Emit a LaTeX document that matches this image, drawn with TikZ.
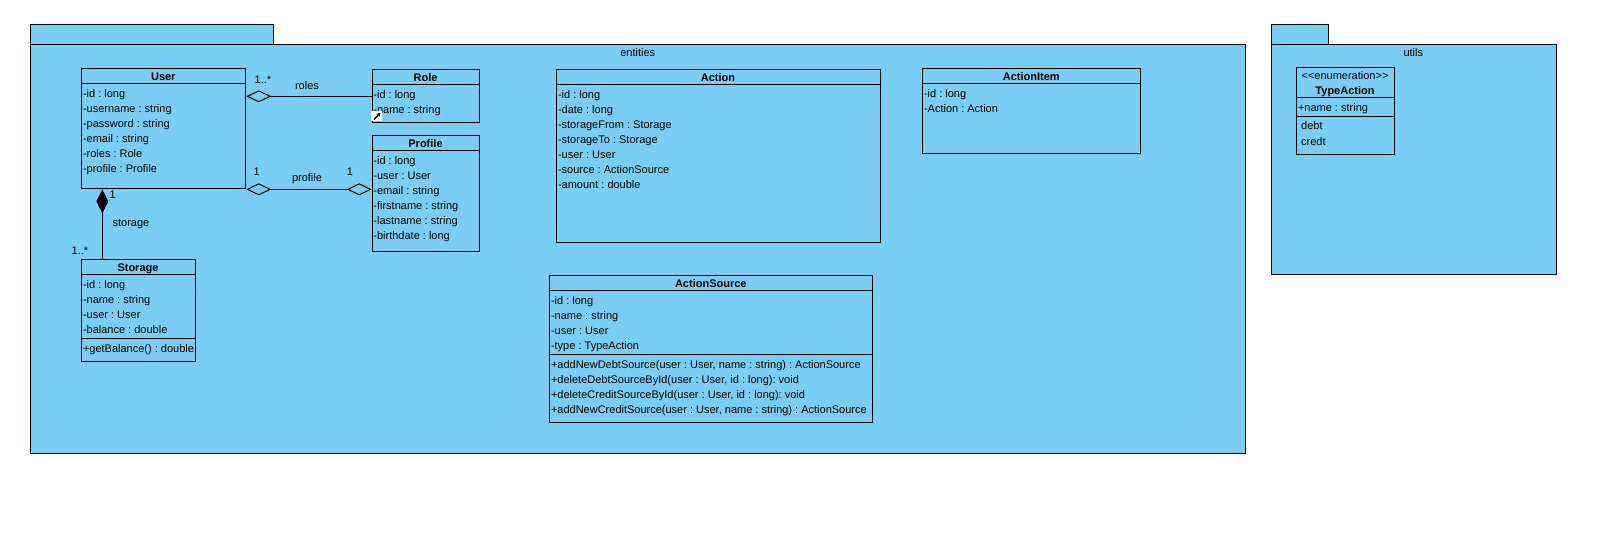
\documentclass[tikz,border=0pt]{standalone}
\usepackage{fontspec}
\setmainfont{Liberation Sans}
\usetikzlibrary{positioning,arrows.meta}
\definecolor{pkgblue}{RGB}{122,206,244}
\frenchspacing

\tikzset{
  classbox/.style={draw, fill=pkgblue, anchor=north west, inner sep=0pt},
  attr/.style={anchor=base west, inner sep=0pt, font=\fontsize{11}{13}\selectfont},
  cname/.style={anchor=base, inner sep=0pt, font=\fontsize{11}{13}\selectfont\bfseries},
  lbl/.style={inner sep=0pt, font=\fontsize{11}{13}\selectfont},
  agg/.tip={Diamond[open, length=25pt, width=12pt]},
  comp/.tip={Diamond[length=24pt, width=12pt]}
}

\begin{document}
\begin{tikzpicture}[x=1pt, y=-1pt, line width=1pt]
	\useasboundingbox (0,0) rectangle (1622,539);
	% packages
	\draw[fill=pkgblue] (30.3,24.3) rectangle (273.3,44.3);
	\draw[fill=pkgblue] (30.3,44.3) rectangle (1245.8,453.8);
	\node[lbl, anchor=base] (entities) at (637.7,56) {entities};
	\draw[fill=pkgblue] (1271.3,24.3) rectangle (1328.3,44.3);
	\draw[fill=pkgblue] (1271.3,44.3) rectangle (1556.3,274.3);
	\node[lbl, anchor=base] (utils) at (1413.3,56) {utils};

	% User
	\node[classbox, minimum width=164pt, minimum height=120pt] (user) at (81.3,68.3) {};
	\draw (81.3,83.7) -- (245.3,83.7);
	\node[cname] (userT) at (163.3,80) {User};
	\node[attr] (u1) at (82.5,97.5) {-id : long};
	\node[attr] (u2) at (82.5,112.5) {-username : string};
	\node[attr] (u3) at (82.5,127.5) {-password : string};
	\node[attr] (u4) at (82.5,142.5) {-email : string};
	\node[attr] (u5) at (82.5,157.5) {-roles : Role};
	\node[attr] (u6) at (82.5,172.5) {-profile : Profile};

	% Role
	\node[classbox, minimum width=107.6pt, minimum height=53pt] (role) at (371.7,69.3) {};
	\draw (371.7,84.3) -- (479.3,84.3);
	\node[cname] (roleT) at (425.5,81) {Role};
	\node[attr] (r1) at (372.9,98.3) {-id : long};
	\node[attr] (r2) at (372.9,113.3) {-name : string};
	\fill[white] (371.3,111) rectangle (382.3,121.3);
	\draw[line width=1.4pt, -{Stealth[length=4pt, width=4.5pt]}] (374,119.5) -- (380.5,112.8);

	% Profile
	\node[classbox, minimum width=107.6pt, minimum height=116pt] (profile) at (371.7,135.3) {};
	\draw (371.7,150.3) -- (479.3,150.3);
	\node[cname] (profileT) at (425.5,147) {Profile};
	\node[attr] (p1) at (372.9,164.3) {-id : long};
	\node[attr] (p2) at (372.9,179.3) {-user : User};
	\node[attr] (p3) at (372.9,194.3) {-email : string};
	\node[attr] (p4) at (372.9,209.3) {-firstname : string};
	\node[attr] (p5) at (372.9,224.3) {-lastname : string};
	\node[attr] (p6) at (372.9,239.3) {-birthdate : long};

	% Storage
	\node[classbox, minimum width=113.4pt, minimum height=102pt] (storage) at (81.3,259.3) {};
	\draw (81.3,274.3) -- (194.7,274.3);
	\draw (81.3,338.7) -- (194.7,338.7);
	\node[cname] (storageT) at (138,271) {Storage};
	\node[attr] (s1) at (82.5,288) {-id : long};
	\node[attr] (s2) at (82.5,303) {-name : string};
	\node[attr] (s3) at (82.5,318) {-user : User};
	\node[attr] (s4) at (82.5,333) {-balance : double};
	\node[attr] (s5) at (82.5,352.3) {+getBalance() : double};

	% Action
	\node[classbox, minimum width=323.4pt, minimum height=173pt] (action) at (556.3,69.3) {};
	\draw (556.3,84.3) -- (879.7,84.3);
	\node[cname] (actionT) at (718,81) {Action};
	\node[attr] (a1) at (557.5,98.3) {-id : long};
	\node[attr] (a2) at (557.5,113.3) {-date : long};
	\node[attr] (a3) at (557.5,128.3) {-storageFrom : Storage};
	\node[attr] (a4) at (557.5,143.3) {-storageTo : Storage};
	\node[attr] (a5) at (557.5,158.3) {-user : User};
	\node[attr] (a6) at (557.5,173.3) {-source : ActionSource};
	\node[attr] (a7) at (557.5,188.3) {-amount : double};

	% ActionSource
	\node[classbox, minimum width=323pt, minimum height=147pt] (source) at (549.3,275.3) {};
	\draw (549.3,290.3) -- (872.3,290.3);
	\draw (549.3,354.3) -- (872.3,354.3);
	\node[cname] (sourceT) at (710.8,287) {ActionSource};
	\node[attr] (as1) at (550.5,304) {-id : long};
	\node[attr] (as2) at (550.5,319) {-name : string};
	\node[attr] (as3) at (550.5,334) {-user : User};
	\node[attr] (as4) at (550.5,349) {-type : TypeAction};
	\node[attr] (as5) at (550.5,368.3) {+addNewDebtSource(user : User, name : string) : ActionSource};
	\node[attr] (as6) at (550.5,383.3) {+deleteDebtSourceById(user : User, id : long): void};
	\node[attr] (as7) at (550.5,398.3) {+deleteCreditSourceById(user : User, id : long): void};
	\node[attr] (as8) at (550.5,413.3) {+addNewCreditSource(user : User, name : string) : ActionSource};

	% ActionItem
	\node[classbox, minimum width=218pt, minimum height=84.7pt] (item) at (922.3,68.3) {};
	\draw (922.3,83.7) -- (1140.3,83.7);
	\node[cname] (itemT) at (1031.3,80) {ActionItem};
	\node[attr] (i1) at (923.5,97.3) {-id : long};
	\node[attr] (i2) at (923.5,112.3) {-Action : Action};

	% TypeAction
	\node[classbox, minimum width=97.4pt, minimum height=87pt] (type) at (1296.3,67.3) {};
	\draw (1296.3,97.3) -- (1393.7,97.3);
	\draw (1296.3,116.3) -- (1393.7,116.3);
	\node[lbl, anchor=base] (typeS) at (1345,79) {\textless\kern0pt\textless\kern0pt enumeration\kern0pt\textgreater\kern0pt\textgreater};
	\node[cname] (typeT) at (1345,94) {TypeAction};
	\node[attr] (t1) at (1297.5,111) {+name : string};
	\node[attr] (t2) at (1300.7,129.7) {debt};
	\node[attr] (t3) at (1300.7,145) {credt};

	% associations
	\draw[-agg] (role.west) -- (role.west -| user.east);
	\node[lbl] (m1) at (263,80) {1..*};
	\node[lbl] (rolesL) at (307,86) {roles};
	\draw[agg-agg] (user.south east) -- (user.south east -| profile.west);
	\node[lbl] (m2) at (256.7,171.7) {1};
	\node[lbl] (profileL) at (307,178.3) {profile};
	\node[lbl] (m3) at (350,171.7) {1};
	\draw[-comp] ([xshift=21pt]storage.north west) -- ([xshift=21pt]user.south west);
	\node[lbl] (m4) at (112.7,195) {1};
	\node[lbl] (storageL) at (131,224.3) {storage};
	\node[lbl] (m5) at (80,250.7) {1..*};
\end{tikzpicture}
\end{document}
